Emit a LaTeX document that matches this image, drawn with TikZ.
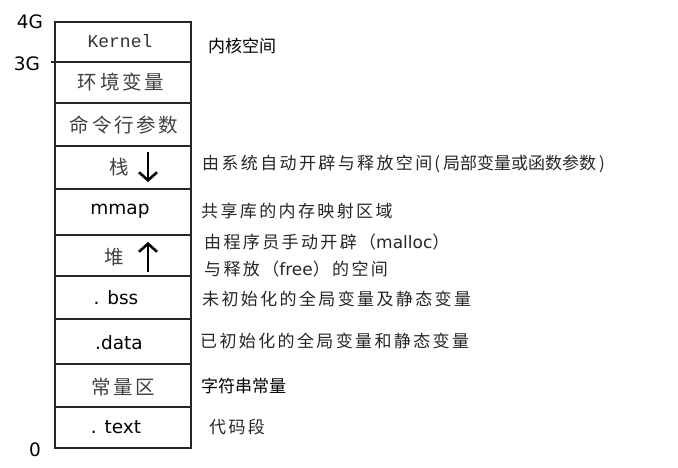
\documentclass[tikz,border=0pt]{standalone}
\usepackage{fontspec}
\setmainfont{DejaVu Sans}
\setmonofont{Liberation Mono}
\newfontfamily\cjk{Noto Sans CJK SC}
\newfontfamily\cjkw[LetterSpace=14]{Noto Sans CJK SC}
\usetikzlibrary{arrows.meta}
\tikzstyle{seg}=[draw=black!85,line width=2pt]
\tikzstyle{lbl}=[inner sep=0pt,font=\fontsize{18.5}{22}\selectfont,text=black]
\tikzstyle{cn}=[inner sep=0pt,font=\cjkw\fontsize{19.5}{22}\selectfont,text=black!75]
\tikzstyle{note}=[anchor=west,inner sep=0pt,font=\cjkw\fontsize{17}{20}\selectfont,text=black!85]
\tikzstyle{dense}=[font=\cjk\fontsize{17}{20}\selectfont,text=black]
\tikzstyle{addr}=[inner sep=0pt,font=\fontsize{18.5}{21}\selectfont]
\tikzstyle{growarr}=[line width=2.6pt,-{Straight Barb[length=8pt,width=18pt]}]

\begin{document}
\begin{tikzpicture}[x=1pt,y=-1pt]
\useasboundingbox (0,0) rectangle (678,467);
% memory layout, top = 4G
\draw[seg] (55,22) rectangle (191,62); \draw[seg] (55,62) rectangle (191,103); \draw[seg] (55,103) rectangle (191,146); \draw[seg] (55,146) rectangle (191,189); \draw[seg] (55,189) rectangle (191,235); \draw[seg] (55,235) rectangle (191,276); \draw[seg] (55,276) rectangle (191,319); \draw[seg] (55,319) rectangle (191,364); \draw[seg] (55,364) rectangle (191,407); \draw[seg] (55,407) rectangle (191,448);
\draw[seg] (51,62) -- (55,62);
\node[addr] (g4) at (30,22) {4G}; \node[addr] (g3) at (27,64) {3G}; \node[addr] (g0) at (35,450) {0};
\node[lbl,font=\ttfamily\fontsize{18}{20}\selectfont,text=black!80] (kern) at (120,41) {Kernel};
\node[cn] (env) at (121,82) {环境变量}; \node[cn] (args) at (124,125) {命令行参数}; \node[cn] (stk) at (119,167) {栈};
\node[lbl] (mmap) at (120,211) {mmap}; \node[cn] (heap) at (114,257) {堆};
\node[lbl] (bss) at (116,298) {. bss}; \node[lbl] (data) at (119,343) {.data};
\node[cn] (rodata) at (123,387) {常量区}; \node[lbl] (text) at (116,427) {. text};
\coordinate (s1) at (148,152); \coordinate (s2) at (148,182); \draw[growarr] (s1) -- (s2);
\coordinate (h1) at (148,272); \coordinate (h2) at (148,242); \draw[growarr] (h1) -- (h2);
% notes on the right
\node[note,dense] (n1) at (208,46) {内核空间};
\node[note] (n2) at (202,164) {由系统自动开辟与释放空间{\cjk\hspace{2pt}(\hspace{3pt}局部变量或函数参数\hspace{3pt})}};
\node[note] (n3) at (201,211) {共享库的内存映射区域};
\node[note] (n4) at (204,242) {由程序员手动开辟（{\rmfamily malloc}）};
\node[note] (n5) at (204,269) {与释放（{\rmfamily free}）的空间};
\node[note] (n6) at (202,299) {未初始化的全局变量及静态变量};
\node[note] (n7) at (200,341) {已初始化的全局变量和静态变量};
\node[note,dense] (n8) at (201,386) {字符串常量};
\node[note] (n9) at (209,427) {代码段};
\end{tikzpicture}
\end{document}
